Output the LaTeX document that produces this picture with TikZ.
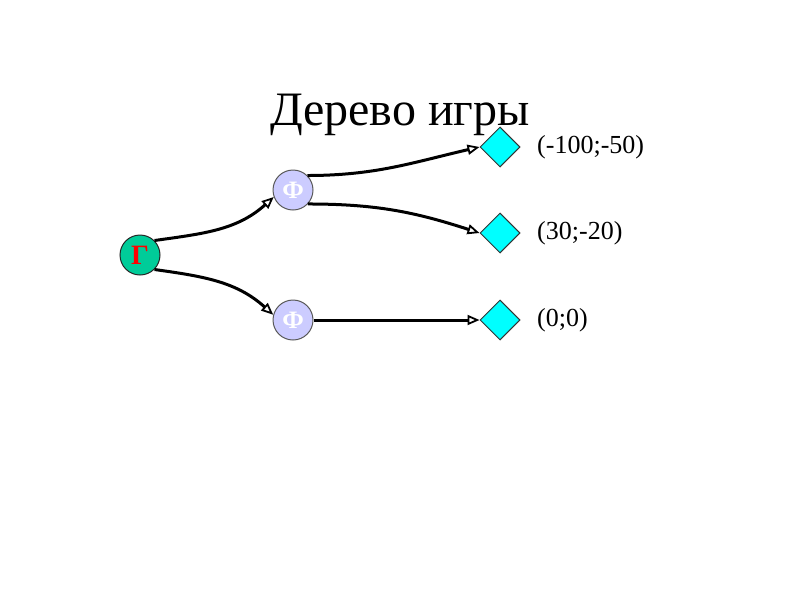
\documentclass[tikz,border=0pt]{standalone}
\usepackage{fontspec}
\setmainfont{Liberation Serif}
\usetikzlibrary{shapes.geometric,arrows.meta}
\definecolor{gnode}{RGB}{0,204,153}
\definecolor{fnode}{RGB}{204,204,255}
\definecolor{leaf}{RGB}{0,255,255}
\tikzset{
  gcirc/.style={circle,draw=black!85,line width=1pt,fill=gnode,minimum size=40pt,inner sep=0pt,
    font=\fontsize{28}{30}\selectfont\bfseries,text=red},
  fcirc/.style={circle,draw=black!65,line width=1pt,fill=fnode,minimum size=40pt,inner sep=0pt,
    font=\fontsize{25}{27}\selectfont\bfseries,text=white},
  leafbox/.style={diamond,aspect=1,draw=black!80,line width=1pt,fill=leaf,minimum size=40pt,inner sep=0pt},
  payoff/.style={anchor=west,inner sep=0pt,font=\fontsize{26}{30}\selectfont},
  edge/.style={line width=3pt,-{Triangle[open,fill=white,length=12pt,width=10pt,line width=1.8pt]}}
}
\begin{document}
\begin{tikzpicture}[x=1pt,y=1pt]
\useasboundingbox (0,0) rectangle (800,-600);
\node[anchor=base,inner sep=0pt,font=\fontsize{48}{58}\selectfont] (title) at (400,-125) {Дерево игры};
\node[gcirc] (g) at (140,-255) {Г};
\node[fcirc] (f1) at (293,-190) {Ф};
\node[fcirc] (f2) at (293,-320) {Ф};
\node[leafbox] (d1) at (500,-147) {};
\node[leafbox] (d2) at (500,-233) {};
\node[leafbox] (d3) at (500,-320) {};
\node[payoff] (p1) at (537,-147) {(-100;-50)};
\node[payoff] (p2) at (537,-233) {(30;-20)};
\node[payoff] (p3) at (537,-320) {(0;0)};
\draw[edge] (g.45) to[out=8,in=222] (f1.200);
\draw[edge] (g.-45) to[out=-8,in=138] (f2.165);
\draw[edge] (f1.45) to[out=0,in=193] (d1.west);
\draw[edge] (f1.-43) to[out=0,in=162] (d2.west);
\draw[edge] (f2.east) -- (d3.west);
\end{tikzpicture}
\end{document}
